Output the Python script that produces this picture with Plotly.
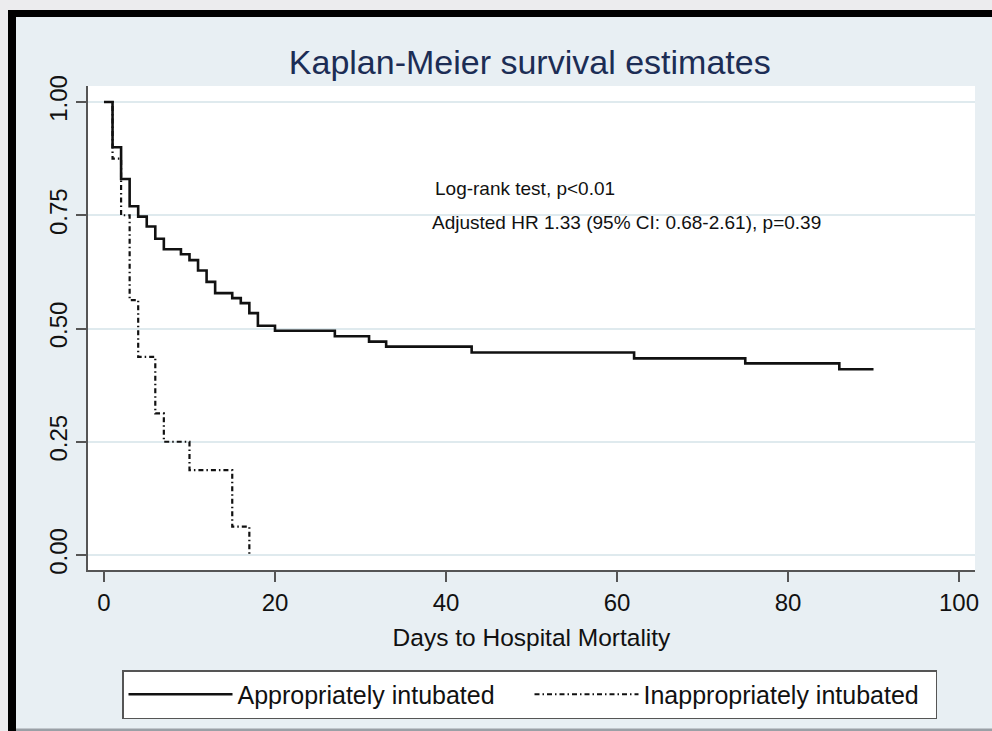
import plotly.graph_objects as go

# ---- data ----
appropriate_days = [0, 1, 2, 3, 4, 5, 6, 7, 9, 10, 11, 12, 13, 15, 16, 17, 18, 20, 27, 31, 33, 43, 62, 75, 86, 90]
appropriate_surv = [1.0, 0.90, 0.83, 0.77, 0.747, 0.725, 0.698, 0.675, 0.664, 0.651, 0.628, 0.603, 0.578,
                    0.567, 0.556, 0.534, 0.506, 0.495, 0.483, 0.471, 0.460, 0.447, 0.434, 0.423, 0.41, 0.41]
inappropriate_days = [0, 1, 2, 3, 4, 6, 7, 10, 15, 17]
inappropriate_surv = [1.0, 0.875, 0.75, 0.5625, 0.4375, 0.3125, 0.25, 0.1875, 0.0625, 0.0]

series_names = ["Appropriately intubated", "Inappropriately intubated"]
x_ticks = [0, 20, 40, 60, 80, 100]
y_ticks = [0.0, 0.25, 0.50, 0.75, 1.00]
y_tick_labels = ["0.00", "0.25", "0.50", "0.75", "1.00"]
title_text = "Kaplan-Meier survival estimates"
x_title = "Days to Hospital Mortality"
note_lines = ["Log-rank test, p<0.01", "Adjusted HR 1.33 (95% CI: 0.68-2.61), p=0.39"]

FONT = "Liberation Sans, Arial, sans-serif"
W, H = 992, 731
L, R, T, B = 88, 17, 86, 161
PW, PH = W - L - R, H - T - B


def px(xp):
    return (xp - L) / PW


def py(yp):
    return (H - B - yp) / PH


fig = go.Figure()
fig.add_trace(go.Scatter(
    x=appropriate_days, y=appropriate_surv, mode="lines", line_shape="hv",
    name=series_names[0], line=dict(color="#111111", width=2.6)))
fig.add_trace(go.Scatter(
    x=inappropriate_days, y=inappropriate_surv, mode="lines", line_shape="hv",
    name=series_names[1], line=dict(color="#111111", width=2.2, dash="5px,3px,1.5px,3px")))

fig.add_annotation(x=38.5, y=0.81, xref="x", yref="y", text=note_lines[0], showarrow=False,
                   xanchor="left", yanchor="middle", font=dict(family=FONT, size=19, color="#111111"))
fig.add_annotation(x=38.1, y=0.735, xref="x", yref="y", text=note_lines[1], showarrow=False,
                   xanchor="left", yanchor="middle", font=dict(family=FONT, size=19, color="#111111"))

# decorative frame (light grey margin + black border at top/left)
shapes = [
    dict(type="rect", xref="paper", yref="paper", x0=px(0), x1=px(W), y0=py(0), y1=py(10),
         fillcolor="#ececee", line_width=0, layer="above"),
    dict(type="rect", xref="paper", yref="paper", x0=px(0), x1=px(8), y0=py(0), y1=py(H),
         fillcolor="#ececee", line_width=0, layer="above"),
    dict(type="rect", xref="paper", yref="paper", x0=px(8), x1=px(W), y0=py(10), y1=py(17),
         fillcolor="#000000", line_width=0, layer="above"),
    dict(type="rect", xref="paper", yref="paper", x0=px(8), x1=px(16), y0=py(10), y1=py(H),
         fillcolor="#000000", line_width=0, layer="above"),
    dict(type="rect", xref="paper", yref="paper", x0=px(16), x1=px(W), y0=py(728.5), y1=py(H),
         fillcolor="#9aa0a6", line_width=0, layer="above"),
]

fig.update_layout(
    width=W, height=H,
    margin=dict(l=L, r=R, t=T, b=B, autoexpand=False),
    paper_bgcolor="#e8eff3", plot_bgcolor="#ffffff",
    font=dict(family=FONT, size=24, color="#111111"),
    title=dict(text=title_text, x=0.534, xanchor="center", y=1 - 62 / H, yanchor="middle",
               font=dict(family=FONT, size=34, color="#1c2d55")),
    showlegend=True,
    legend=dict(orientation="h", x=px(122), xanchor="left", y=py(670), yanchor="top",
                bgcolor="#ffffff", bordercolor="#555555", borderwidth=1.5,
                font=dict(family=FONT, size=25, color="#111111"),
                itemwidth=104, entrywidth=287, entrywidthmode="pixels",
                tracegroupgap=0),
    shapes=shapes,
)
fig.update_xaxes(range=[-1.87, 101.87], tickvals=x_ticks, ticktext=[str(v) for v in x_ticks],
                 showgrid=False, zeroline=False, showline=True, linecolor="#555555", linewidth=1.5,
                 ticks="outside", ticklen=10, tickwidth=1.5, tickcolor="#555555",
                 tickfont=dict(family=FONT, size=24, color="#111111"),
                 title=dict(text=x_title, standoff=14, font=dict(family=FONT, size=24.5, color="#111111")))
fig.update_yaxes(range=[-0.0331, 1.0353], tickvals=y_ticks, ticktext=y_tick_labels, tickangle=-90,
                 showgrid=True, gridcolor="#dfeaee", gridwidth=1.5, zeroline=False,
                 showline=True, linecolor="#555555", linewidth=1.5,
                 ticks="outside", ticklen=10, tickwidth=1.5, tickcolor="#555555",
                 tickfont=dict(family=FONT, size=24, color="#111111"))

fig.write_html("out.html", config={"displayModeBar": False},
               post_script="document.body.style.margin='0';document.body.style.overflow='hidden';")
